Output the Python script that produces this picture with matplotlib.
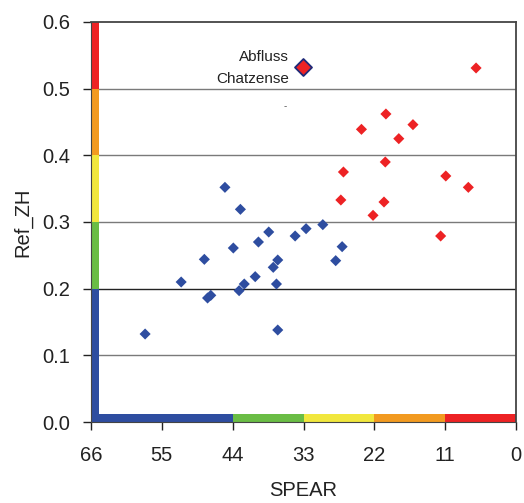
"""
SPEAR vs Ref_ZH scatter with colour-class bands on both axes.
"""
import matplotlib.pyplot as plt
from matplotlib.patches import Rectangle

plt.rcParams["font.family"] = ["Liberation Sans", "DejaVu Sans"]

# class bands
y_bands = [0.0, 0.2, 0.3, 0.4, 0.5, 0.6]
x_bands = [66, 44, 33, 22, 11, 0]
band_colors = ["#2E4DA0", "#6ABD45", "#F1E73D", "#F29A20", "#ED2224"]
x_ticks = [66, 55, 44, 33, 22, 11, 0]
y_ticks = [0.0, 0.1, 0.2, 0.3, 0.4, 0.5, 0.6]

# stations (SPEAR, Ref_ZH)
blue_x = [45.2, 42.8, 38.4, 34.3, 32.6, 30.0, 40.0, 43.9, 48.4, 37.0, 37.7,
          52.0, 40.5, 42.2, 43.0, 37.2, 47.4, 47.9, 57.6, 37.0, 27.0, 28.0]
blue_y = [0.352, 0.319, 0.285, 0.279, 0.290, 0.296, 0.270, 0.261, 0.244, 0.243, 0.232,
          0.210, 0.218, 0.207, 0.197, 0.207, 0.190, 0.186, 0.132, 0.138, 0.263, 0.242]
red_x = [6.2, 20.2, 24.0, 16.0, 18.2, 20.3, 26.8, 10.9, 7.4, 27.2, 20.5, 22.2, 11.7]
red_y = [0.531, 0.462, 0.439, 0.446, 0.425, 0.390, 0.375, 0.369, 0.352, 0.333, 0.330,
         0.310, 0.279]
hl_x, hl_y = 33.1, 0.532
hl_label = "Abfluss\nChatzense"

fig = plt.figure(figsize=(5.24, 5.03), dpi=100)
ax = fig.add_axes([0.1737, 0.161, 0.811, 0.7953])

ax.set_xlim(66, 0)
ax.set_ylim(0, 0.6)

for y in y_ticks[1:-1]:
    ax.axhline(y, color="#222222" if y == 0.2 else "#7a7a7a", lw=1.0, zorder=1)

# colour bars along the axes
bar_w = 1.25
bar_h = 0.012
for i, c in enumerate(band_colors):
    ax.add_patch(Rectangle((66 - bar_w, y_bands[i]), bar_w, y_bands[i + 1] - y_bands[i],
                           facecolor=c, edgecolor="none", zorder=2, clip_on=False))
    ax.add_patch(Rectangle((x_bands[i + 1], 0), x_bands[i] - x_bands[i + 1], bar_h,
                           facecolor=c, edgecolor="none", zorder=2, clip_on=False))

ax.scatter(blue_x, blue_y, marker="D", s=32, color="#2E4DA0", edgecolor="none", zorder=3)
ax.scatter(red_x, red_y, marker="D", s=32, color="#ED2224", edgecolor="none", zorder=3)
ax.scatter([hl_x], [hl_y], marker="D", s=75, color="#ED2224", edgecolor="#1F2A78",
           linewidth=1.3, zorder=4)
ax.text(hl_x + 2.2, hl_y - 0.001, hl_label, ha="right", va="center", fontsize=11,
        color="#222222", linespacing=1.75)
ax.text(hl_x + 2.7, hl_y - 0.058, "-", ha="center", va="center", fontsize=7, color="#555555")

ax.set_xticks(x_ticks)
ax.set_yticks(y_ticks)
ax.yaxis.set_major_formatter(plt.FormatStrFormatter("%.1f"))
ax.tick_params(axis="both", labelsize=14.5, colors="#222222", length=6, width=1,
               direction="out")
ax.tick_params(axis="x", pad=11)
ax.tick_params(axis="y", pad=9)
ax.set_xlabel("SPEAR", fontsize=14.5, color="#222222", labelpad=12)
ax.set_ylabel("Ref_ZH", fontsize=14.5, color="#222222", labelpad=7)

for side in ["top", "right"]:
    ax.spines[side].set_color("#444444")
    ax.spines[side].set_linewidth(1.3)
ax.spines["left"].set_color("#444444")
ax.spines["bottom"].set_color("#444444")

fig.savefig("out.png", dpi=100)
